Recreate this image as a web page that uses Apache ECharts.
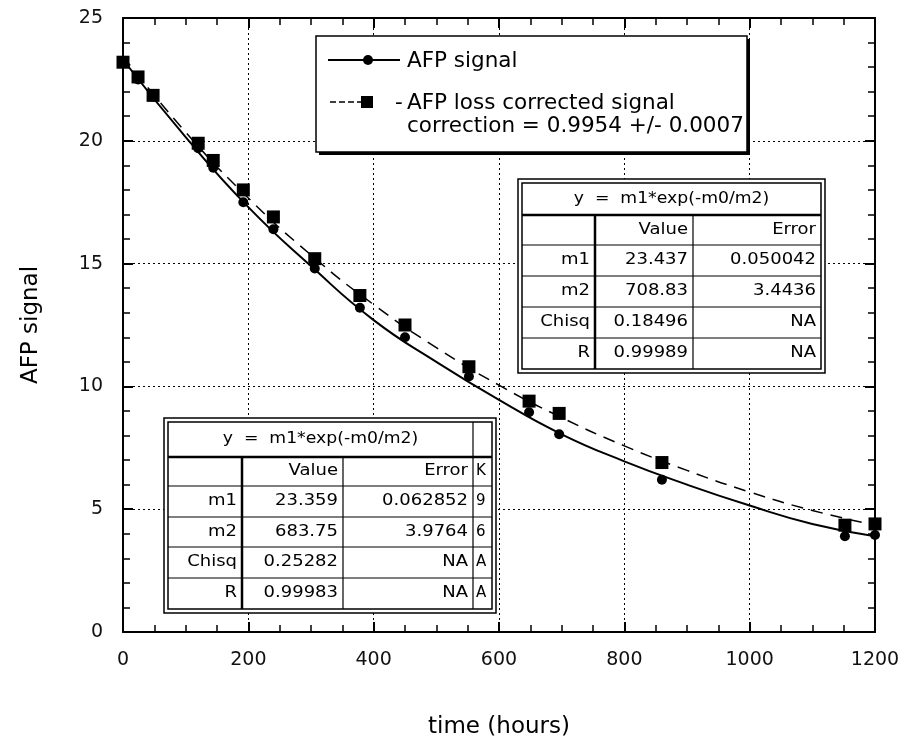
<!DOCTYPE html>
<html>
<head>
<meta charset="utf-8">
<script src="https://cdn.jsdelivr.net/npm/echarts@6/dist/echarts.min.js"></script>
<style>
  html, body { margin: 0; padding: 0; background: #fff; }
  #chart { width: 908px; height: 744px; }
</style>
</head>
<body>
<div id="chart"></div>
<script>
// measured points (hours, AFP signal)
const hours = [0, 24, 48, 120, 144, 192, 240, 306, 378, 450, 552, 648, 696, 860, 1152, 1200];
const afpSignal = [23.2, 22.5, 21.8, 19.7, 18.9, 17.5, 16.4, 14.8, 13.2, 12.0, 10.4, 8.95, 8.05, 6.2, 3.9, 3.95];
const afpCorrected = [23.2, 22.6, 21.85, 19.9, 19.2, 18.0, 16.9, 15.2, 13.7, 12.5, 10.8, 9.4, 8.9, 6.9, 4.35, 4.4];

// fitted curves
const fitHours = [0, 100, 200, 300, 400, 500, 600, 700, 800, 900, 1000, 1100, 1200];
const fitSignal = [23.3, 20.15, 17.3, 14.9, 12.7, 11.0, 9.45, 8.05, 6.95, 6.0, 5.15, 4.4, 3.9];
const fitCorrected = [23.44, 20.35, 17.67, 15.35, 13.33, 11.58, 10.05, 8.73, 7.58, 6.58, 5.7, 4.95, 4.35];

// fit tables
const rowNames = ["m1", "m2", "Chisq", "R"];
const correctedValues = ["23.437", "708.83", "0.18496", "0.99989"];
const correctedErrors = ["0.050042", "3.4436", "NA", "NA"];
const signalValues = ["23.359", "683.75", "0.25282", "0.99983"];
const signalErrors = ["0.062852", "3.9764", "NA", "NA"];
const cutColumn = ["K", "9", "6", "A", "A"];
const fitTitle = "y  =  m1*exp(-m0/m2)";

const FONT = '"DejaVu Sans", Verdana, sans-serif';

function txt(x, y, s, size, align, sx) {
  return {
    type: "text", x: x, y: y, scaleX: sx || 1, z: 102,
    style: {
      text: s, font: size + "px " + FONT, fill: "#000",
      align: align || "left", verticalAlign: "middle",
      textAlign: align || "left", textVerticalAlign: "middle"
    }
  };
}
function ln(x1, y1, x2, y2, w, dash) {
  return {
    type: "line", z: 101,
    shape: { x1: x1, y1: y1, x2: x2, y2: y2 },
    style: { stroke: "#000", lineWidth: w || 1, lineDash: dash || null }
  };
}
function box(x, y, w, h, fill, stroke, lw) {
  return {
    type: "rect", z: 100,
    shape: { x: x, y: y, width: w, height: h },
    style: { fill: fill, stroke: stroke || null, lineWidth: lw || 0 }
  };
}

function fitTable(t, values, errors) {
  const els = [];
  els.push(box(t.x1, t.y1, t.x2 - t.x1, t.y2 - t.y1, "#fff", "#000", 1.5));
  const ix1 = t.x1 + 4, iy1 = t.y1 + 4, ix2 = t.x2 - 4, iy2 = t.y2 - 4;
  els.push(box(ix1, iy1, ix2 - ix1, iy2 - iy1, "none", "#000", 1.5));
  els.push(ln(ix1, t.titleY, ix2, t.titleY, 2.5));
  t.rows.forEach(function (ry) { els.push(ln(ix1, ry, ix2, ry, 1.2)); });
  els.push(ln(t.cols[0], t.titleY, t.cols[0], iy2, 2.5));
  els.push(ln(t.cols[1], t.titleY, t.cols[1], iy2, 1.2));
  if (t.cols[2]) els.push(ln(t.cols[2], iy1, t.cols[2], iy2, 1.2));
  const right = t.cols[2] || ix2;
  els.push(txt((ix1 + right) / 2, (iy1 + t.titleY) / 2, fitTitle, 15, "center", 1.15));
  const edges = [t.titleY].concat(t.rows, [iy2]);
  const mid = function (i) { return (edges[i] + edges[i + 1]) / 2; };
  els.push(txt(t.cols[1] - 5, mid(0), "Value", 15, "right", 1.2));
  els.push(txt(right - 5, mid(0), "Error", 15, "right", 1.2));
  rowNames.forEach(function (n, i) {
    els.push(txt(t.cols[0] - 5, mid(i + 1), n, 15, "right", 1.2));
    els.push(txt(t.cols[1] - 5, mid(i + 1), values[i], 15, "right", 1.2));
    els.push(txt(right - 5, mid(i + 1), errors[i], 15, "right", 1.2));
  });
  if (t.cols[2]) {
    cutColumn.forEach(function (c, i) {
      els.push(txt(t.cols[2] + 3, mid(i), c, 15, "left", 1.0));
    });
  }
  return els;
}

const legendEls = [
  box(319, 39, 431, 116, "#000"),
  box(316, 36, 431, 116, "#fff", "#000", 1.5),
  ln(328, 60, 400, 60, 2),
  { type: "circle", z: 102, shape: { cx: 368, cy: 60, r: 5 }, style: { fill: "#000" } },
  txt(407, 61, "AFP signal", 21.5, "left"),
  ln(330, 102, 372, 102, 1.5, [6, 3]),
  { type: "rect", z: 102, shape: { x: 361, y: 96, width: 12, height: 12 }, style: { fill: "#000" } },
  txt(395, 103, "-", 21.5, "left"),
  txt(407, 103, "AFP loss corrected signal", 21.5, "left"),
  txt(407, 126, "correction = 0.9954 +/- 0.0007", 21.5, "left")
];

const upperTable = fitTable({
  x1: 518, y1: 179, x2: 825, y2: 373, titleY: 215,
  rows: [245, 276, 307, 338], cols: [595, 693]
}, correctedValues, correctedErrors);

const lowerTable = fitTable({
  x1: 164, y1: 418, x2: 496, y2: 613, titleY: 457,
  rows: [486, 517, 547, 578], cols: [242, 343, 473]
}, signalValues, signalErrors);

const chart = echarts.init(document.getElementById("chart"));

const tickStyle = { color: "#000", width: 2 };
const gridLine = { show: true, lineStyle: { color: "#000", type: [2, 3], width: 1 } };
const nameStyle = { fontFamily: FONT, fontSize: 23, color: "#000" };

function xAxis(pos, main) {
  return {
    type: "value", position: pos, min: 0, max: 1200, interval: 200,
    axisLine: { show: true, onZero: false, lineStyle: { color: "#000", width: 2 } },
    axisTick: { show: true, inside: true, length: 10, lineStyle: tickStyle },
    minorTick: { show: true, splitNumber: 4, length: 7, lineStyle: { color: "#000", width: 1.5 } },
    axisLabel: {
      show: main, margin: 19, fontFamily: FONT, fontSize: 19, color: "#111",
      formatter: function (v) { return String(v); }
    },
    splitLine: main ? gridLine : { show: false },
    name: main ? "time (hours)" : "", nameLocation: "middle", nameGap: 84,
    nameTextStyle: nameStyle
  };
}
function yAxis(pos, main) {
  return {
    type: "value", position: pos, min: 0, max: 25, interval: 5,
    axisLine: { show: true, onZero: false, lineStyle: { color: "#000", width: 2 } },
    axisTick: { show: true, inside: true, length: 10, lineStyle: tickStyle },
    minorTick: { show: true, splitNumber: 5, length: 7, lineStyle: { color: "#000", width: 1.5 } },
    axisLabel: { show: main, margin: 20, fontFamily: FONT, fontSize: 19, color: "#111" },
    splitLine: main ? gridLine : { show: false },
    name: main ? "AFP signal" : "", nameLocation: "middle", nameGap: 80, nameRotate: 90,
    nameTextStyle: nameStyle
  };
}

const options = {
  animation: false,
  backgroundColor: "#fff",
  grid: { left: 123, right: 33, top: 18, bottom: 111 },
  xAxis: [xAxis("bottom", true), xAxis("top", false)],
  yAxis: [yAxis("left", true), yAxis("right", false)],
  series: [
    {
      type: "line", smooth: true, showSymbol: false, silent: true,
      data: fitHours.map(function (h, i) { return [h, fitSignal[i]]; }),
      lineStyle: { color: "#000", width: 2 }
    },
    {
      type: "line", smooth: true, showSymbol: false, silent: true,
      data: fitHours.map(function (h, i) { return [h, fitCorrected[i]]; }),
      lineStyle: { color: "#000", width: 1.5, type: [12, 8] }
    },
    {
      type: "scatter", symbol: "circle", symbolSize: 10,
      data: hours.map(function (h, i) { return [h, afpSignal[i]]; }),
      itemStyle: { color: "#000", opacity: 1 }
    },
    {
      type: "scatter", symbol: "rect", symbolSize: 13,
      data: hours.map(function (h, i) { return [h, afpCorrected[i]]; }),
      itemStyle: { color: "#000", opacity: 1 }
    }
  ],
  graphic: legendEls.concat(upperTable, lowerTable)
};

chart.setOption(options);
</script>
</body>
</html>
